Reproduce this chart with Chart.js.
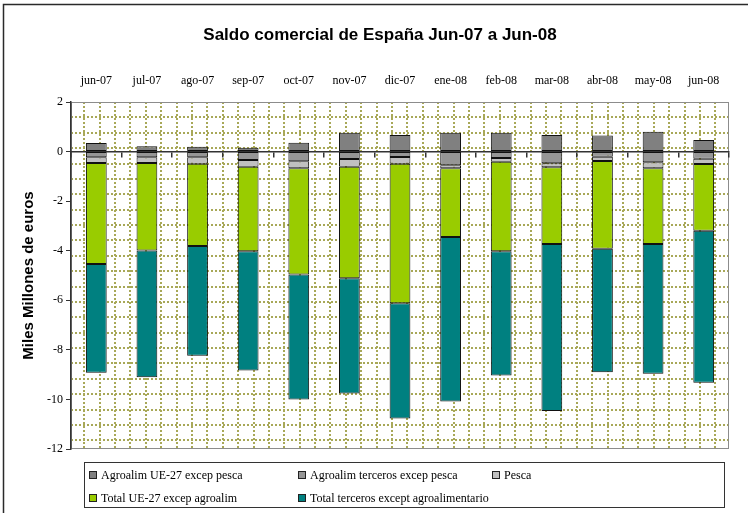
<!DOCTYPE html>
<html><head><meta charset="utf-8">
<script src="https://cdn.jsdelivr.net/npm/chart.js@4.4.0/dist/chart.umd.min.js"></script>
<style>
html,body{margin:0;padding:0;background:#fff;}
#wrap{position:relative;width:748px;height:513px;overflow:hidden;}
canvas{position:absolute;left:0;top:0;}
#legend{position:absolute;left:84px;top:462px;width:641px;height:46px;border:1px solid #333;box-sizing:border-box;font-family:'Liberation Serif',serif;font-size:12px;color:#000;}
.item{position:absolute;display:flex;align-items:center;white-space:nowrap;height:14px;}
.sw{width:6px;height:6px;border:1px solid #222;margin-right:4px;}
</style></head>
<body><div id="wrap"><canvas id="c" width="748" height="513"></canvas><div id="legend"></div></div>
<script>
const categories = ['jun-07','jul-07','ago-07','sep-07','oct-07','nov-07','dic-07','ene-08','feb-08','mar-08','abr-08','may-08','jun-08'];
const agroUE        = [0.35, 0.21, 0.19, 0.15, 0.36, 0.76, 0.67, 0.76, 0.76, 0.67, 0.65, 0.80, 0.47];
const agroTerceros  = [-0.23,-0.23,-0.23,-0.34,-0.39,-0.30,-0.22,-0.55,-0.26,-0.47,-0.21,-0.43,-0.29];
const pesca         = [-0.23,-0.23,-0.26,-0.27,-0.28,-0.31,-0.27,-0.12,-0.15,-0.16,-0.17,-0.24,-0.21];
const totalUE       = [-4.08,-3.53,-3.32,-3.41,-4.29,-4.50,-5.63,-2.78,-3.61,-3.10,-3.54,-3.06,-2.69];
const totalTerceros = [-4.38,-5.12,-4.43,-4.81,-5.04,-4.65,-4.65,-6.63,-5.01,-6.74,-4.98,-5.23,-6.14];
const yTicks = [2, 0, -2, -4, -6, -8, -10, -12];
const seriesNames = ['Agroalim UE-27 excep pesca','Agroalim terceros excep pesca','Pesca','Total UE-27 excep agroalim','Total terceros except agroalimentario'];
const seriesColors = ['#808080','#969696','#C0C0C0','#99CC00','#008080'];
const seriesValues = [agroUE, agroTerceros, pesca, totalUE, totalTerceros];

const PAD_LEFT = 31;

const decor = {
  id: 'decor',
  beforeDraw(chart) {
    const ctx = chart.ctx, a = chart.chartArea;
    ctx.save();
    ctx.strokeStyle = '#2a2a2a'; ctx.lineWidth = 1.5;
    ctx.beginPath(); ctx.moveTo(3.5, 513); ctx.lineTo(3.5, 4.5); ctx.lineTo(748, 4.5); ctx.stroke();
    ctx.save();
    ctx.beginPath(); ctx.rect(a.left, a.top, a.right - a.left, a.bottom - a.top); ctx.clip();
    ctx.strokeStyle = '#a8a858'; ctx.lineWidth = 2; ctx.setLineDash([2, 2]);
    for (let y = a.top; y < a.bottom; y += 15.38) {
      ctx.beginPath(); ctx.moveTo(a.left, Math.round(y)); ctx.lineTo(a.right, Math.round(y)); ctx.stroke();
    }
    for (let x = a.left + 13.1; x < a.right; x += 15.4) {
      ctx.beginPath(); ctx.moveTo(Math.round(x), a.top); ctx.lineTo(Math.round(x), a.bottom); ctx.stroke();
    }
    ctx.restore();
    ctx.setLineDash([]);
    ctx.strokeStyle = '#8c8c8c'; ctx.lineWidth = 1;
    ctx.strokeRect(a.left + 0.5, a.top + 0.5, a.right - a.left - 1, a.bottom - a.top - 1);
    ctx.restore();
  }
};

const chart = new Chart(document.getElementById('c'), {
  type: 'bar',
  data: {
    labels: categories,
    datasets: seriesValues.map((vals, i) => ({
      label: seriesNames[i],
      data: vals,
      backgroundColor: seriesColors[i],
      borderColor: '#111',
      borderWidth: 1,
      borderSkipped: false,
      barPercentage: 0.41,
      categoryPercentage: 1
    }))
  },
  options: {
    responsive: false,
    animation: false,
    devicePixelRatio: 1,
    layout: { padding: { left: PAD_LEFT, right: 19, top: 0, bottom: 64 } },
    plugins: {
      legend: { display: false },
      tooltip: { enabled: false },
      title: {
        display: true,
        text: 'Saldo comercial de España Jun-07 a Jun-08',
        color: '#000',
        font: { family: 'Liberation Sans', size: 17, weight: 'bold' },
        padding: { top: 25, bottom: 0 }
      }
    },
    scales: {
      x: {
        type: 'category',
        position: 'top',
        stacked: true,
        grid: { display: false, drawTicks: false },
        border: { display: false },
        ticks: { color: '#000', font: { family: 'Liberation Serif', size: 12 }, padding: 14, maxRotation: 0, autoSkip: false },
        afterFit: s => { s.height = 102 - 45.4; }
      },
      x2: {
        type: 'category',
        position: { y: 0 },
        offset: true,
        grid: { display: true, drawOnChartArea: false, drawTicks: true, tickLength: 5, color: '#333', lineWidth: 1.5, offset: true },
        border: { display: true, color: '#333', width: 1.5 },
        ticks: { display: false }
      },
      y: {
        stacked: true,
        min: -12,
        max: 2,
        afterBuildTicks: s => { s.ticks = yTicks.map(v => ({ value: v })); },
        grid: { display: true, drawOnChartArea: false, drawTicks: true, tickLength: 5, color: '#333' },
        border: { display: true, color: '#333', width: 1.5 },
        ticks: { color: '#000', font: { family: 'Liberation Serif', size: 12 }, padding: 3 },
        title: {
          display: true,
          text: 'Miles Millones de euros',
          color: '#000',
          font: { family: 'Liberation Sans', size: 15, weight: 'bold' },
          padding: { top: -11, bottom: 0 }
        },
        afterFit: s => { s.width = 71 - PAD_LEFT; }
      }
    }
  },
  plugins: [decor]
});

const legendEl = document.getElementById('legend');
const legendPos = [[4, 5], [213, 5], [407, 5], [4, 28], [213, 28]];
chart.data.datasets.forEach((ds, i) => {
  const it = document.createElement('div');
  it.className = 'item';
  it.style.left = legendPos[i][0] + 'px';
  it.style.top = legendPos[i][1] + 'px';
  const sw = document.createElement('span');
  sw.className = 'sw';
  sw.style.background = ds.backgroundColor;
  const tx = document.createElement('span');
  tx.textContent = ds.label;
  it.appendChild(sw); it.appendChild(tx);
  legendEl.appendChild(it);
});
</script>
</body></html>
